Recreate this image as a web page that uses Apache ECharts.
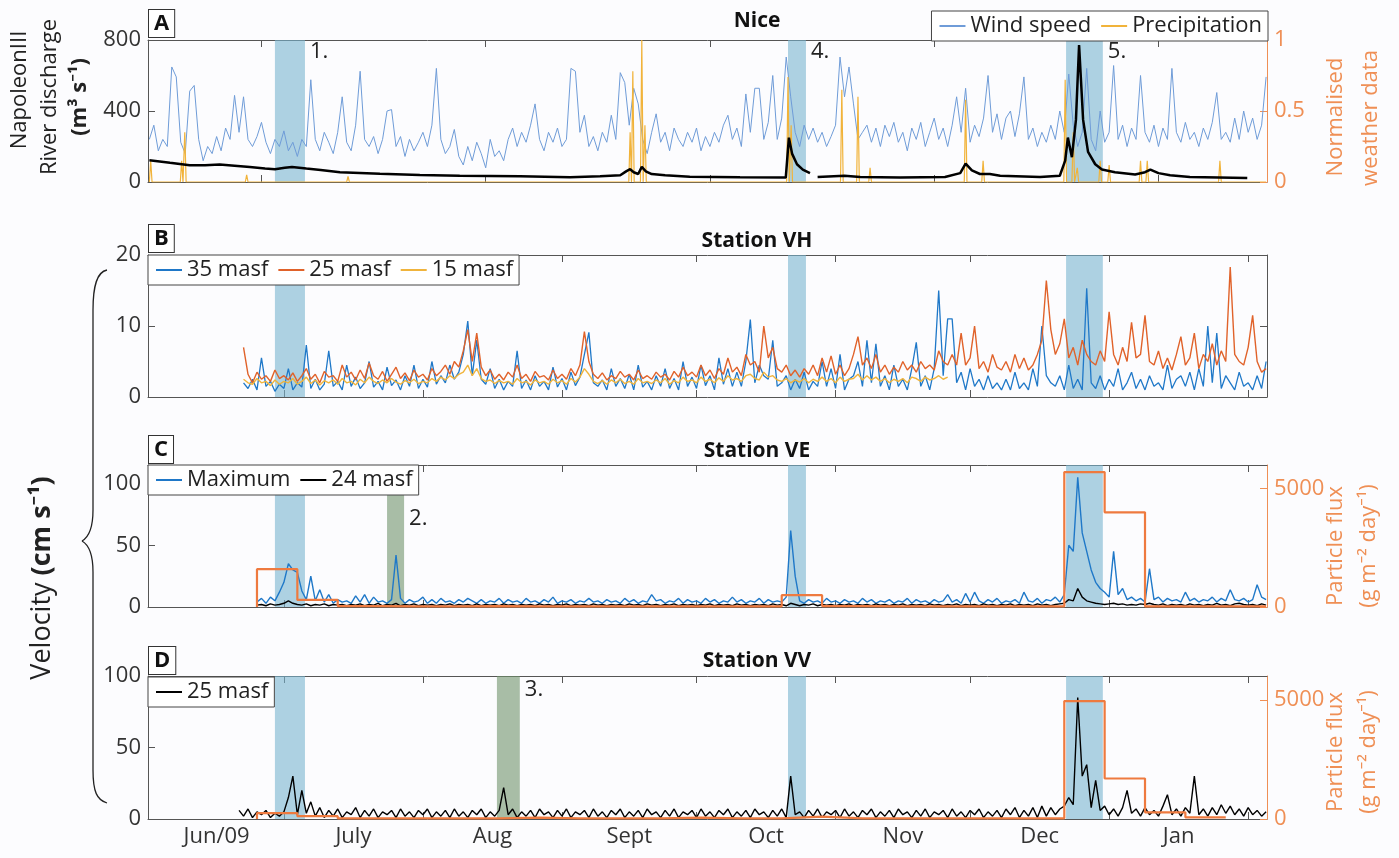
<!DOCTYPE html>
<html>
<head>
<meta charset="utf-8">
<script src="https://cdn.jsdelivr.net/npm/echarts@6/dist/echarts.min.js"></script>
<style>
  html, body { margin: 0; padding: 0; background: #fcfcfe; }
  #chart { width: 1399px; height: 858px; }
</style>
</head>
<body>
<div id="chart"></div>
<script>
// x values are days since 1 June 2009
const monthTicks = [30, 61, 92, 122, 153, 183, 214, 245]
const monthMid = [15, 45.5, 76.5, 107, 137.5, 168, 198.5, 229.5]
const monthNames = ['Jun/09', 'July', 'Aug', 'Sept', 'Oct', 'Nov', 'Dec', 'Jan']
const ticksNice = [25, 75, 125, 175, 225]

// shaded events (blue) and the two green ones
const eventFrom = [28.0, 142.4, 204.4]
const eventTo = [34.7, 146.4, 212.6]
const eventLabel = ['1.', '4.', '5.']
const greenVE = [53.0, 56.8]
const greenVV = [77.5, 82.6]

// panel A: Nice, normalised wind speed (daily from day 0)
const windSpeed = [
  .30,.40,.22,.30,.25,.81,.74,.28,.20,.64, .68,.30,.15,.25,.20,.32,.22,.38,.30,.61,
  .35,.60,.30,.25,.32,.42,.28,.20,.30,.25, .36,.22,.28,.18,.30,.25,.72,.30,.22,.35,
  .28,.20,.35,.60,.28,.22,.40,.78,.30,.25, .32,.20,.30,.50,.51,.25,.32,.18,.30,.22,
  .28,.35,.25,.40,.80,.30,.20,.25,.37,.18, .12,.25,.15,.28,.20,.10,.30,.18,.22,.15,
  .30,.38,.25,.35,.28,.40,.55,.30,.22,.35, .28,.38,.25,.30,.80,.78,.35,.47,.25,.32,
  .22,.35,.28,.47,.30,.77,.70,.40,.66,.55, .30,.20,.35,.48,.28,.35,.22,.38,.30,.25,
  .35,.28,.38,.22,.32,.25,.35,.28,.40,.47, .30,.38,.25,.62,.35,.66,.66,.30,.42,.75,
  .30,.45,.88,.60,.35,.25,.40,.30,.38,.28, .35,.25,.32,.40,.88,.60,.81,.55,.30,.35,
  .40,.28,.38,.25,.40,.32,.42,.28,.35,.22, .38,.30,.42,.25,.35,.45,.30,.38,.25,.40,
  .60,.35,.66,.28,.40,.32,.45,.75,.35,.48, .30,.45,.50,.32,.48,.74,.30,.38,.25,.35,
  .28,.40,.30,.50,.35,.76,.40,.25,.35,.80, .30,.22,.50,.28,.35,.82,.30,.40,.25,.38,
  .30,.75,.35,.28,.40,.25,.38,.30,.80,.35, .28,.42,.30,.35,.25,.38,.30,.42,.63,.30,
  .35,.28,.45,.30,.50,.35,.45,.30,.40,.74
]
const precipDays = [0.3, 7.2, 7.9, 21.7, 44.3, 107.2, 107.8, 109.8, 110.5, 142.4, 143.1, 154.4,
  158.0, 160.7, 182.0, 185.9, 204.2, 206.0, 206.9, 212.0, 214.0, 221.0, 222.5, 238.7]
const precipVals = [0.15, 0.15, 0.35, 0.05, 0.04, 0.35, 0.78, 1.0, 0.4, 0.74, 0.4, 0.65,
  0.6, 0.1, 0.58, 0.15, 0.72, 0.35, 0.1, 0.15, 0.12, 0.15, 0.15, 0.15]
const dischargeDays = [0,4.6,9,12.4,15.7,19,22.4,25.8,28,30.2, 31.8,35,38.2,42.5,51.4,60.3,69.2,82.6,93.8,100.5,
  105,106.3,107.2,108,109,109.8,110.7,112,115,120.5, 131.7,141.9,142.6,143.3,144.4,145.7,147.3,148.2,149,155,
  158.5,167.4,177.4,180.8,182,183.4,185.2,187.4,189.7,198.6, 203,204.2,204.8,205.7,206.6,207.3,208.2,209.3,210.9,212.4,
  215.3,219.8,222,223.2,225,227.6,232,244.8]
const dischargeVals = [122,108,95,95,98,92,85,76,72,80, 85,76,68,55,47,40,35,32,27,33,
  38,60,72,55,45,85,60,45,38,30, 27,25,250,160,100,70,50,null,28,35,
  28,25,28,50,104,65,45,45,35,28, 35,120,250,140,350,772,350,170,100,70,
  55,42,55,70,50,38,28,22]

// panel B: station VH (daily from day 21)
const vh35 = [
  2.0,1.2,2.5,1.0,5.5,1.5,2.2,0.8,1.8,1.2, 4.0,1.0,2.0,1.4,7.3,1.2,2.5,1.0,1.8,6.5,
  1.5,2.2,1.0,4.5,1.5,2.8,1.2,2.0,5.0,1.4, 2.2,1.0,4.2,1.6,2.4,1.0,3.0,1.5,4.5,1.2,
  2.5,1.4,5.0,1.8,3.0,2.0,4.5,2.5,3.5,6.0, 10.7,3.0,8.0,2.5,1.8,4.0,1.2,2.5,1.0,2.2,
  1.5,6.5,1.2,2.4,1.0,3.0,1.5,2.2,1.0,4.2, 1.4,2.6,1.0,3.5,1.6,2.8,6.0,9.1,2.0,1.5,
  2.4,1.0,4.0,1.5,2.6,1.2,3.2,1.0,4.5,1.4, 2.2,1.0,3.0,1.5,4.0,1.2,2.6,1.0,5.0,1.5,
  2.8,1.2,4.5,1.6,3.0,1.0,5.5,1.8,4.0,1.5, 3.5,1.5,5.0,10.9,2.0,4.5,3.0,2.5,8.0,1.5,
  2.0,3.0,1.0,2.5,1.2,3.5,1.0,2.2,1.5,5.0, 1.5,4.0,1.2,6.0,1.0,2.5,3.0,5.0,1.5,8.0,
  2.0,7.5,1.5,3.0,1.0,4.5,1.5,2.5,1.0,4.0, 7.7,1.5,3.0,1.0,4.0,15.0,3.0,11.0,11.0,2.0,
  3.5,1.0,4.0,1.5,2.5,1.0,3.0,1.2,2.0,1.0, 2.5,1.0,3.5,1.2,2.0,1.0,4.0,1.5,10.0,3.0,
  2.0,1.5,3.0,1.0,4.5,1.2,2.5,1.0,15.3,2.0, 1.2,3.0,1.0,2.5,1.5,4.0,1.0,2.0,3.5,1.2,
  2.5,1.0,3.0,1.5,2.0,1.0,4.5,1.2,2.5,3.0, 1.5,3.5,1.0,4.0,1.5,10.0,2.0,9.0,1.2,3.0,
  2.0,1.0,3.5,1.5,2.0,1.0,3.0,1.2,5.0
]
const vh25 = [
  7.0,3.2,2.0,3.5,2.5,3.0,2.2,3.8,2.6,3.0, 2.4,3.4,2.2,3.0,4.0,2.5,3.2,2.0,3.6,2.8,
  3.0,2.2,4.5,2.8,3.5,2.4,3.8,2.6,4.8,3.0, 2.5,3.6,2.2,3.2,4.2,2.6,3.4,2.3,3.8,2.8,
  3.2,2.4,4.0,3.0,3.6,4.5,3.2,5.0,4.2,6.5, 9.5,5.0,9.0,4.2,3.0,3.8,2.5,3.2,2.4,3.5,
  2.8,4.5,2.6,3.2,2.2,3.6,2.8,3.0,2.4,3.8, 2.6,3.2,2.5,4.0,3.0,4.5,9.2,5.0,3.2,2.6,
  3.4,2.4,3.0,2.6,3.6,2.8,3.2,2.4,3.8,2.6, 3.0,2.5,3.5,2.8,3.2,2.4,3.6,2.8,4.2,3.0,
  3.5,2.8,4.5,3.0,3.8,2.6,4.0,3.2,5.5,3.5, 4.2,3.0,6.0,4.5,5.0,3.5,10.0,5.5,7.0,4.0,
  3.5,4.5,3.0,3.8,2.8,4.0,3.2,4.5,3.0,5.5, 3.5,5.8,3.2,4.5,3.0,4.0,6.0,8.5,4.5,5.5,
  4.0,6.0,3.5,4.5,3.2,4.2,3.5,5.0,3.8,4.5, 3.5,5.0,4.0,4.5,3.8,6.5,5.0,4.5,6.0,4.5,
  9.0,4.5,5.5,10.0,4.0,5.0,3.5,6.0,4.2,3.8, 5.0,3.5,6.0,4.0,5.5,3.8,4.5,6.0,8.0,16.4,
  9.5,6.0,7.5,11.0,5.5,7.0,4.5,8.0,6.0,5.0, 4.5,6.5,5.0,12.0,6.0,4.5,7.0,5.0,10.5,5.5,
  6.0,11.5,5.0,4.5,6.5,4.0,5.5,3.8,6.0,8.5, 4.5,5.5,9.0,4.0,6.0,5.0,7.5,4.5,6.5,5.0,
  18.3,6.0,5.0,4.5,7.0,11.5,5.0,3.5,4.0
]
const vh15 = [
  2.5,2.0,1.8,2.6,2.0,2.2,1.6,2.4,1.8,2.2, 2.0,2.6,1.8,2.2,2.8,1.9,2.4,1.7,2.3,2.0,
  2.4,1.8,2.6,2.0,2.2,1.7,2.5,2.0,2.8,2.2, 1.9,2.4,2.0,2.6,2.1,1.8,2.3,2.0,2.5,1.9,
  2.2,2.0,2.6,2.2,2.8,2.4,3.0,2.6,3.2,3.5, 4.5,3.0,4.0,2.6,2.2,2.4,1.9,2.3,2.0,2.2,
  1.8,2.6,2.0,2.2,1.7,2.4,2.0,2.2,1.8,2.5, 2.0,2.3,1.8,2.6,2.1,2.8,4.0,3.2,2.2,1.9,
  2.3,1.8,2.4,2.0,2.5,1.9,2.2,1.8,2.6,2.0, 2.2,1.9,2.4,2.0,2.6,1.8,2.3,2.0,2.8,2.2,
  2.4,2.0,2.8,2.2,2.5,2.0,2.7,2.2,3.0,2.4, 2.6,2.2,3.0,3.2,2.6,2.4,3.5,2.8,3.0,2.4,
  2.2,2.6,2.0,2.4,2.1,2.6,2.0,2.5,2.2,2.8, 2.2,2.6,2.0,2.8,2.2,2.5,2.6,3.2,2.4,3.0,
  2.4,2.8,2.2,2.6,2.0,2.5,2.2,2.6,2.0,2.8, 2.6,2.2,2.8,2.4,2.6,3.0,2.5,2.8
]

// panel C: station VE (daily from day 24)
const veMax = [
  4,7,3,8,5,12,20,35,30,28, 13,6,25,5,14,4,10,3,6,4, 5,3,9,4,10,3,8,4,5,3,
  6,42,7,3,6,4,5,8,3,6, 3,7,4,5,3,6,4,7,5,3, 6,3,5,4,7,3,6,4,5,3,
  7,4,5,3,6,4,8,3,5,4, 6,3,5,4,7,4,5,3,6,4, 5,3,7,4,6,3,5,4,10,5,
  6,3,5,4,7,3,6,4,5,3, 7,4,6,3,5,4,8,4,6,3, 5,4,7,3,6,4,5,4,8,62,
  25,5,3,6,4,5,3,7,4,5, 3,6,4,5,3,7,4,6,3,5, 4,6,3,5,4,7,3,6,4,5,
  3,6,4,5,10,4,6,3,11,4, 12,5,3,6,4,7,3,5,4,6, 3,12,5,4,7,3,6,5,8,4,
  10,50,45,105,60,45,30,20,15,12, 8,45,10,15,6,8,5,7,4,31, 6,8,4,7,5,6,4,12,5,7,
  4,6,5,8,4,7,5,14,6,5, 7,4,6,18,8,6
]
const ve24 = [
  1.5,2,1,2.5,1.5,2,3,5,3,2, 1.5,2.5,1,2,1.5,2.5,1,2,1.5,2, 1,2,1.5,2.5,1,2,1.5,3,1,2,
  1.5,3,1,2,1.5,2.5,1,2,1.5,2, 1,2,1.5,2.5,1,2,1.5,2,1,2.5, 1,2,1.5,2,1,2.5,1.5,2,1,2,
  1.5,2,1,2.5,1.5,2,1,2,1.5,2.5, 1,2,1.5,2,1,2.5,1.5,2,1,2, 1.5,2,1,2.5,1.5,2,1,2.5,1.5,2,
  1,2,1.5,2.5,1,2,1.5,2,1,2, 1.5,2.5,1,2,1.5,2,1,2.5,1.5,2, 1,2,1.5,2,1,2.5,1.5,2,1,3,
  2,1,2,1.5,2.5,1,2,1.5,2,1, 2,1.5,2.5,1,2,1.5,2,1,2.5,1.5, 2,1,2,1.5,2.5,1,2,1.5,2,1,
  2.5,1.5,2,1,2,1.5,2.5,1,2,1.5, 2,1,2.5,1.5,2,1,2,1.5,2.5,1, 2,1.5,2,1,2.5,1.5,2,1,2,2.5,
  3,6,5,15,8,5,4,3,2.5,2, 2.5,3,2,2.5,1.5,2,1.5,2.5,2,3, 2,1.5,2.5,1,2,1.5,2,1,2.5,1.5,
  2,1,2,1.5,3,1.5,2,1,2.5,3, 2,1.5,2,1,2.5,1.5
]
// particle flux, 9-day trap bins from day 24
const fluxStart = 24
const fluxBin = 9
const fluxVE = [1600,300,40,30,30,40,30,30,30,30,30,30,30,500,40,30,30,30,30,30,5700,4000,30,30,30]

// panel D: station VV (daily from day 20)
const vv25 = [
  6,2,7,1,5,3,6,1,4,2, 5,15,30,3,20,4,12,2,8,1, 6,2,7,1,5,3,8,1,6,2,
  7,1,5,3,6,1,7,2,5,1, 6,3,7,1,5,2,6,1,7,2, 5,1,6,3,7,1,5,2,6,22,
  3,7,1,5,2,6,1,7,3,5, 1,6,2,7,1,5,3,6,1,7, 2,5,1,6,3,7,1,5,2,6,
  1,7,3,5,1,6,2,7,1,5, 3,6,1,7,2,5,1,6,3,7, 1,5,2,6,1,7,3,5,1,6,
  2,7,1,30,3,5,1,6,2,7, 1,5,3,6,1,7,2,5,1,6, 3,7,1,5,2,6,1,7,3,5,
  1,6,2,7,1,5,3,6,1,7, 2,5,1,6,3,7,1,5,2,6, 1,7,3,8,1,6,2,8,1,9,
  2,8,3,7,9,15,10,85,30,38, 8,27,6,9,3,7,2,8,20,4, 7,2,8,3,6,2,9,17,3,7,
  2,8,4,30,3,7,2,8,3,10, 4,9,3,7,2,8,3,6,2,5
]
const fluxVV = [250,120,30,30,30,30,60,30,30,30,60,30,30,100,30,30,30,30,30,30,4950,1700,280,70]

const FONT = "'Open Sans', 'Noto Sans', sans-serif"
const ORANGE = '#ef8f55'
const AXIS = '#555'
const X_MIN = -0.3
const X_MAX = 249.2

const daily = (start, vals) => vals.map((v, i) => [start + i, v])
const pairs = (days, vals) => days.map((d, i) => [d, vals[i]])
const spikes = (days, vals) => {
  let out = [[0, 0]]
  days.forEach((d, i) => { out.push([d - 0.3, 0], [d, vals[i]], [d + 0.3, 0]) })
  out.push([249, 0])
  return out
}
const steps = (start, bin, vals) => {
  let out = [[start, 0]]
  vals.forEach((v, i) => out.push([start + i * bin, v]))
  out.push([start + vals.length * bin, vals[vals.length - 1]])
  return out
}

function shade(from, to, color, text, dy) {
  return [{
    xAxis: from,
    itemStyle: { color: color },
    label: text ? {
      show: true, formatter: text, position: 'right', distance: 5, offset: [0, dy],
      fontSize: 22, color: '#222', fontFamily: FONT
    } : { show: false }
  }, { xAxis: to }]
}
const BLUE_SHADE = 'rgba(120,180,207,0.6)'
const GREEN_SHADE = 'rgba(112,147,107,0.6)'
function eventAreas(withLabels) {
  return eventFrom.map((f, i) => shade(f, eventTo[i], BLUE_SHADE, withLabels ? eventLabel[i] : null, -59))
}

function xAx(grid, pos, ticks, labels) {
  return {
    type: 'value', gridIndex: grid, position: pos, min: X_MIN, max: X_MAX,
    axisLine: { show: true, onZero: false, lineStyle: { color: AXIS, width: 1 } },
    axisTick: { show: true, inside: true, length: 7, customValues: ticks, lineStyle: { color: AXIS } },
    axisLabel: labels ? {
      show: true, customValues: monthMid, margin: 7,
      formatter: v => monthNames[monthMid.indexOf(v)],
      fontSize: 22, color: '#333', fontFamily: FONT
    } : { show: false },
    splitLine: { show: false }
  }
}
function yAx(grid, pos, max, interval, color, showLabels, hideMax) {
  return {
    type: 'value', gridIndex: grid, position: pos, min: 0, max: max, interval: interval,
    axisLine: { show: true, onZero: false, lineStyle: { color: color, width: 1 } },
    axisTick: { show: true, inside: true, length: 7, lineStyle: { color: color } },
    axisLabel: {
      show: showLabels, margin: 7, fontSize: 22, fontFamily: FONT,
      color: color === AXIS ? '#333' : ORANGE, showMaxLabel: !hideMax,
      formatter: v => String(v)
    },
    splitLine: { show: false }
  }
}
function lineSeries(name, x, y, data, color, width, extra) {
  return Object.assign({
    name: name, type: 'line', xAxisIndex: x, yAxisIndex: y, data: data,
    symbol: 'none', showSymbol: false, animation: false,
    lineStyle: { color: color, width: width }, itemStyle: { color: color },
    emphasis: { disabled: true }
  }, extra || {})
}
const legendBase = {
  orient: 'horizontal', icon: 'rect', itemWidth: 26, itemHeight: 2, itemGap: 10,
  backgroundColor: '#fff', borderColor: '#444', borderWidth: 1, borderRadius: 0,
  padding: [4, 6, 4, 8], selectedMode: false,
  textStyle: { fontSize: 22, color: '#222', fontFamily: FONT }
}
const rotText = (text, x, y, color, rich) => ({
  type: 'text', x: x, y: y, rotation: Math.PI / 2, z: 50,
  style: {
    text: text, fill: color, fontSize: 22, fontFamily: FONT,
    align: 'center', verticalAlign: 'middle', rich: rich
  }
})
const letter = (t, y) => ({
  type: 'text', x: 149, y: y, z: 60,
  style: {
    text: t, fill: '#111', fontSize: 22, fontWeight: 'bold', fontFamily: FONT,
    backgroundColor: '#fff', borderColor: '#333', borderWidth: 1, padding: [3, 5, 2, 5]
  }
})
const title = (t, y) => ({
  type: 'text', x: 757, y: y, z: 50,
  style: { text: t, fill: '#111', fontSize: 21, fontWeight: 'bold', fontFamily: FONT, align: 'center', verticalAlign: 'middle' }
})
const curve = (x1, y1, cx1, cy1, cx2, cy2, x2, y2) => ({
  type: 'bezierCurve', z: 50,
  shape: { x1: x1, y1: y1, cpx1: cx1, cpy1: cy1, cpx2: cx2, cpy2: cy2, x2: x2, y2: y2 },
  style: { fill: 'none', stroke: '#222', lineWidth: 1.3 }
})
const seg = (x1, y1, x2, y2) => ({
  type: 'line', z: 50,
  shape: { x1: x1, y1: y1, x2: x2, y2: y2 },
  style: { stroke: '#222', lineWidth: 1.3 }
})

const chart = echarts.init(document.getElementById('chart'))
chart.setOption({
  backgroundColor: '#fcfcfe',
  animation: false,
  grid: [
    { left: 148, right: 132, top: 40, height: 142 },
    { left: 148, right: 132, top: 255, height: 142 },
    { left: 148, right: 132, top: 465, height: 142 },
    { left: 148, right: 132, top: 676, height: 143 }
  ],
  xAxis: [
    xAx(0, 'bottom', ticksNice, false), xAx(0, 'top', ticksNice, false),
    xAx(1, 'bottom', monthTicks, false), xAx(1, 'top', monthTicks, false),
    xAx(2, 'bottom', monthTicks, false), xAx(2, 'top', monthTicks, false),
    xAx(3, 'bottom', monthTicks, true), xAx(3, 'top', monthTicks, false)
  ],
  yAxis: [
    yAx(0, 'left', 800, 400, AXIS, true, false),
    yAx(0, 'right', 1, 0.5, ORANGE, true, false),
    yAx(1, 'left', 20, 10, AXIS, true, false),
    yAx(1, 'right', 20, 10, AXIS, false, false),
    yAx(2, 'left', 115, 50, AXIS, true, true),
    yAx(2, 'right', 6000, 5000, ORANGE, true, true),
    yAx(3, 'left', 100, 50, AXIS, true, false),
    yAx(3, 'right', 6000, 5000, ORANGE, true, true)
  ],
  legend: [
    Object.assign({}, legendBase, { data: ['Wind speed', 'Precipitation'], right: 131, top: 11 }),
    Object.assign({}, legendBase, { data: ['35 masf', '25 masf', '15 masf'], left: 148, top: 255 }),
    Object.assign({}, legendBase, { data: ['Maximum', '24 masf'], left: 148, top: 465 }),
    Object.assign({}, legendBase, { data: ['25 masf '], left: 148, top: 677, formatter: n => n.trim() })
  ],
  series: [
    lineSeries('Wind speed', 0, 1, daily(0, windSpeed), '#6f9cd8', 1, {
      markArea: { silent: true, data: eventAreas(true) }
    }),
    lineSeries('Precipitation', 0, 1, spikes(precipDays, precipVals), '#f1b33a', 1.2),
    lineSeries('Discharge', 0, 0, pairs(dischargeDays, dischargeVals), '#000', 2.5, { z: 4 }),

    lineSeries('35 masf', 2, 2, daily(21, vh35), '#1f78c8', 1.3, {
      markArea: { silent: true, data: eventAreas(false) }
    }),
    lineSeries('25 masf', 2, 2, daily(21, vh25), '#e0622a', 1.4),
    lineSeries('15 masf', 2, 2, daily(21, vh15), '#f0b43c', 1.4),

    lineSeries('Maximum', 4, 4, daily(24, veMax), '#1f78c8', 1.4, {
      markArea: { silent: true, data: eventAreas(false).concat([shade(greenVE[0], greenVE[1], GREEN_SHADE, '2.', -17)]) }
    }),
    lineSeries('24 masf', 4, 4, daily(24, ve24), '#000', 1.4),
    lineSeries('Particle flux VE', 4, 5, steps(fluxStart, fluxBin, fluxVE), '#ee7a3f', 2.2, { step: 'end' }),

    lineSeries('25 masf ', 6, 6, daily(20, vv25), '#000', 1.4, {
      markArea: { silent: true, data: eventAreas(false).concat([shade(greenVV[0], greenVV[1], GREEN_SHADE, '3.', -58)]) }
    }),
    lineSeries('Particle flux VV', 6, 7, steps(fluxStart, fluxBin, fluxVV), '#ee7a3f', 2.2, { step: 'end' })
  ],
  graphic: [
    letter('A', 10), letter('B', 225), letter('C', 436), letter('D', 647),
    title('Nice', 21), title('Station VH', 241), title('Station VE', 451), title('Station VV', 661),
    rotText('NapoleonIII', 20, 90, '#222'),
    rotText('River discharge', 50, 97, '#222'),
    rotText('{b|(m³ s⁻¹)}', 80, 97, '#222', { b: { fontSize: 22, fontWeight: 'bold', fontFamily: FONT, fill: '#222' } }),
    rotText('{n|Velocity }{b|(cm s⁻¹)}', 42, 578, '#222', {
      n: { fontSize: 27, fontFamily: FONT, fill: '#222' },
      b: { fontSize: 27, fontWeight: 'bold', fontFamily: FONT, fill: '#222' }
    }),
    // curly brace grouping panels B to D
    curve(107, 270, 97, 272, 93, 285, 93, 310),
    seg(93, 310, 93, 510),
    curve(93, 510, 93, 528, 89, 537, 82, 541),
    curve(82, 541, 89, 545, 93, 554, 93, 572),
    seg(93, 572, 93, 770),
    curve(93, 770, 93, 792, 97, 800, 107, 803),
    rotText('Normalised', 1336, 117, ORANGE),
    rotText('weather data', 1371, 118, ORANGE),
    rotText('Particle flux', 1336, 546, ORANGE),
    rotText('(g m⁻² day⁻¹)', 1369, 546, ORANGE),
    rotText('Particle flux', 1336, 752, ORANGE),
    rotText('(g m⁻² day⁻¹)', 1369, 752, ORANGE)
  ]
})
</script>
</body>
</html>
